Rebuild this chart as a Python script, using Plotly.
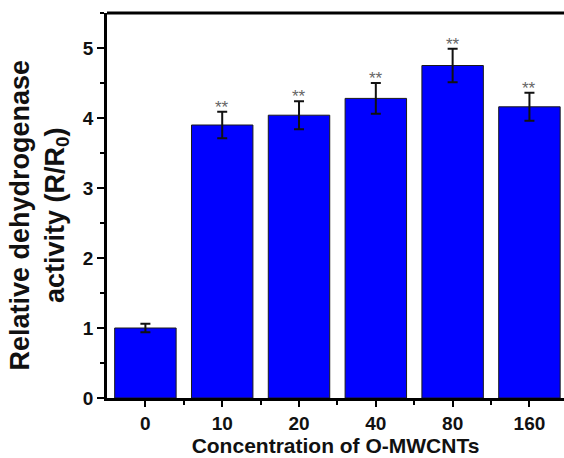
import plotly.graph_objects as go

categories = ["0", "10", "20", "40", "80", "160"]
values = [1.0, 3.90, 4.04, 4.28, 4.75, 4.16]
errors = [0.06, 0.19, 0.20, 0.22, 0.24, 0.20]
marks = ["", "**", "**", "**", "**", "**"]

xpos = list(range(len(categories)))
FONT = "Arial, Liberation Sans, sans-serif"

fig = go.Figure()
fig.add_trace(go.Bar(
    x=xpos, y=values, width=0.8,
    marker=dict(color="#0000FF", line=dict(color="#1a1a1a", width=1)),
    error_y=dict(type="data", array=errors, visible=True,
                 color="#111111", thickness=2, width=5),
    showlegend=False,
))

for x, v, e, m in zip(xpos, values, errors, marks):
    if m:
        fig.add_annotation(x=x, y=v + e, text=m, showarrow=False,
                           yanchor="bottom", yshift=-7,
                           font=dict(family=FONT, size=17, color="#666666"))

fig.add_annotation(
    text="<b>Relative dehydrogenase<br>activity (R/R<sub>0</sub>)</b>",
    xref="paper", yref="paper", x=0, y=0.5, xanchor="center", yanchor="middle",
    xshift=-68, yshift=-10, textangle=-90, showarrow=False,
    font=dict(family=FONT, size=27, color="#111111"),
)

fig.add_shape(type="line", xref="paper", yref="paper", x0=0, x1=1, y0=1, y1=1,
              line=dict(color="black", width=3))

fig.update_layout(
    width=564, height=458,
    margin=dict(l=107, r=0, t=13, b=60),
    plot_bgcolor="white", paper_bgcolor="white",
    font=dict(family=FONT, color="black"),
    bargap=0.2,
)
fig.update_xaxes(
    range=[-0.5, 5.45], tickvals=xpos, ticktext=categories,
    showline=True, linecolor="black", linewidth=2.5,
    ticks="outside", ticklen=6, tickwidth=2, tickcolor="black",
    minor=dict(tickvals=[i + 0.5 for i in xpos], ticklen=4, tickwidth=2, tickcolor="black", ticks="outside"),
    tickfont=dict(family=FONT, size=19, color="#111111", weight="bold"),
    showgrid=False, zeroline=False,
    title=dict(text="<b>Concentration of O-MWCNTs</b>", font=dict(family=FONT, size=21, color="#111111"), standoff=2),
)
fig.update_yaxes(
    range=[0, 5.5], tickvals=[0, 1, 2, 3, 4, 5],
    showline=True, linecolor="black", linewidth=2.5,
    ticks="outside", ticklen=7, tickwidth=2, tickcolor="black",
    minor=dict(dtick=0.5, tick0=0, ticklen=4, tickwidth=2, tickcolor="black", ticks="outside"),
    tickfont=dict(family=FONT, size=19, color="#111111", weight="bold"),
    showgrid=False, zeroline=False,
)

fig.write_html("out.html", config={"displayModeBar": False},
               post_script="document.body.style.margin='0';document.body.style.overflow='hidden';")
